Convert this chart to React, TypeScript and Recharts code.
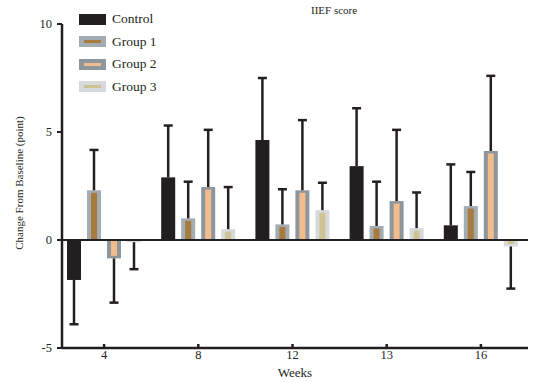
import * as React from 'react';
import { Bar, BarChart, ReferenceLine, XAxis, YAxis } from 'recharts';

const weeks = ['4', '8', '12', '13', '16'];

// bar heights and where each error whisker ends
const controlVals = [-1.85, 2.9, 4.63, 3.42, 0.68];
const controlEnds = [-3.9, 5.3, 7.5, 6.1, 3.5];
const group1Vals = [2.3, 1.0, 0.72, 0.65, 1.57];
const group1Ends = [4.17, 2.7, 2.35, 2.7, 3.15];
const group2Vals = [-0.85, 2.45, 2.3, 1.8, 4.12];
const group2Ends = [-2.9, 5.1, 5.55, 5.1, 7.6];
const group3Vals = [-0.1, 0.5, 1.38, 0.55, -0.3];
const group3Ends = [-1.35, 2.45, 2.65, 2.2, -2.25];

const yTicks = [-5, 0, 5, 10];

const INK = '#231f20';
const FONT = '"Liberation Serif", "DejaVu Serif", serif';

const SERIES = [
  { key: 'control', name: 'Control', vals: controlVals, ends: controlEnds, outer: INK, core: INK },
  { key: 'g1', name: 'Group 1', vals: group1Vals, ends: group1Ends, outer: '#a3abb3', core: '#a67b3d' },
  { key: 'g2', name: 'Group 2', vals: group2Vals, ends: group2Ends, outer: '#8d969d', core: '#f2bd8c' },
  { key: 'g3', name: 'Group 3', vals: group3Vals, ends: group3Ends, outer: '#d6dadd', core: '#cdc395' },
];

const data = weeks.map((week, i) => {
  const row: Record<string, number | string> = { week };
  SERIES.forEach((s) => {
    row[s.key] = s.vals[i];
    row[`${s.key}Err`] = s.ends[i] - s.vals[i];
  });
  return row;
});

function makeBarShape(key: string, outer: string, core: string) {
  return function BarShape(props: any) {
    const { x, y, width, height, payload } = props;
    const top = Math.min(y, y + height);
    const h = Math.abs(height);
    const positive = (payload[key] as number) >= 0;
    const inset = 4;
    const innerH = h - 2.5;
    return (
      <g>
        <rect x={x} y={top} width={width} height={h} fill={outer} />
        {innerH > 0 && outer !== core ? (
          <rect
            x={x + inset}
            y={positive ? top + 2.5 : top}
            width={width - inset * 2}
            height={innerH}
            fill={core}
          />
        ) : null}
      </g>
    );
  };
}

function makeErrShape(key: string) {
  return function ErrShape(props: any) {
    const { x, y, width, height, payload } = props;
    const delta = payload[key] as number;
    const top = Math.min(y, y + height);
    const bottom = Math.max(y, y + height);
    const cx = x + width / 2;
    const far = delta >= 0 ? top : bottom;
    const near = delta >= 0 ? bottom : top;
    return (
      <g stroke={INK} strokeWidth={2.5}>
        <line x1={cx} y1={near} x2={cx} y2={far} />
        <line x1={cx - 4.5} y1={far} x2={cx + 4.5} y2={far} />
      </g>
    );
  };
}

function LegendBox() {
  return (
    <div
      style={{
        position: 'absolute',
        left: 79,
        top: 8,
        fontFamily: FONT,
        fontSize: 13.5,
        color: INK,
      }}
    >
      {SERIES.map((s) => (
        <div key={s.key} style={{ display: 'flex', alignItems: 'center', height: 22.5 }}>
          <div
            style={{
              width: 27,
              height: 11,
              background: s.outer,
              marginRight: 6,
              display: 'flex',
              alignItems: 'center',
              justifyContent: 'center',
            }}
          >
            {s.outer !== s.core ? (
              <div style={{ width: 17, height: 3, background: s.core }} />
            ) : null}
          </div>
          <span>{s.name}</span>
        </div>
      ))}
    </div>
  );
}

export default function App(): React.ReactElement {
  return (
    <div
      style={{
        position: 'absolute',
        left: 0,
        top: 0,
        width: 538,
        height: 382,
        background: '#fff',
      }}
    >
      <BarChart
        width={538}
        height={382}
        data={data}
        margin={{ top: 24, right: 10, bottom: 0, left: 0 }}
        barSize={14}
        barGap={6}
        stackOffset="none"
      >
        <XAxis
          dataKey="week"
          height={34}
          padding={{ left: -5, right: 0 }}
          axisLine={{ stroke: INK, strokeWidth: 2.5 }}
          tickLine={{ stroke: INK, strokeWidth: 2.5 }}
          tickSize={-4}
          tickMargin={6}
          tick={{ fill: INK, fontSize: 12.5, fontFamily: FONT }}
          label={{
            content: ({ viewBox }: any) => (
              <text
                x={295}
                y={viewBox.y + 29}
                textAnchor="middle"
                fill={INK}
                fontFamily={FONT}
                fontSize={13}
              >
                Weeks
              </text>
            ),
          }}
        />
        <YAxis
          width={62}
          domain={[-5, 10]}
          ticks={yTicks}
          interval={0}
          axisLine={{ stroke: INK, strokeWidth: 2.5 }}
          tickLine={{ stroke: INK, strokeWidth: 2 }}
          tickSize={5}
          tickMargin={5}
          tick={{ fill: INK, fontSize: 12.5, fontFamily: FONT }}
          label={{
            content: ({ viewBox }: any) => {
              const lx = 23;
              const ly = viewBox.y + viewBox.height / 2 - 3;
              return (
                <text
                  x={lx}
                  y={ly}
                  transform={`rotate(-90 ${lx} ${ly})`}
                  textAnchor="middle"
                  fill={INK}
                  fontFamily={FONT}
                  fontSize={11}
                >
                  Change From Baseline (point)
                </text>
              );
            },
          }}
        />
        {SERIES.flatMap((s) => [
          <Bar
            key={s.key}
            dataKey={s.key}
            name={s.name}
            stackId={s.key}
            fill={s.outer}
            shape={makeBarShape(s.key, s.outer, s.core)}
            isAnimationActive={false}
          />,
          <Bar
            key={`${s.key}Err`}
            dataKey={`${s.key}Err`}
            stackId={s.key}
            fill="none"
            shape={makeErrShape(`${s.key}Err`)}
            isAnimationActive={false}
          />,
        ])}
        <ReferenceLine y={0} stroke={INK} strokeWidth={2} />
      </BarChart>
      <LegendBox />
      <div
        style={{
          position: 'absolute',
          left: 311,
          top: 4,
          fontFamily: FONT,
          fontSize: 11,
          color: INK,
        }}
      >
        IIEF score
      </div>
    </div>
  );
}
